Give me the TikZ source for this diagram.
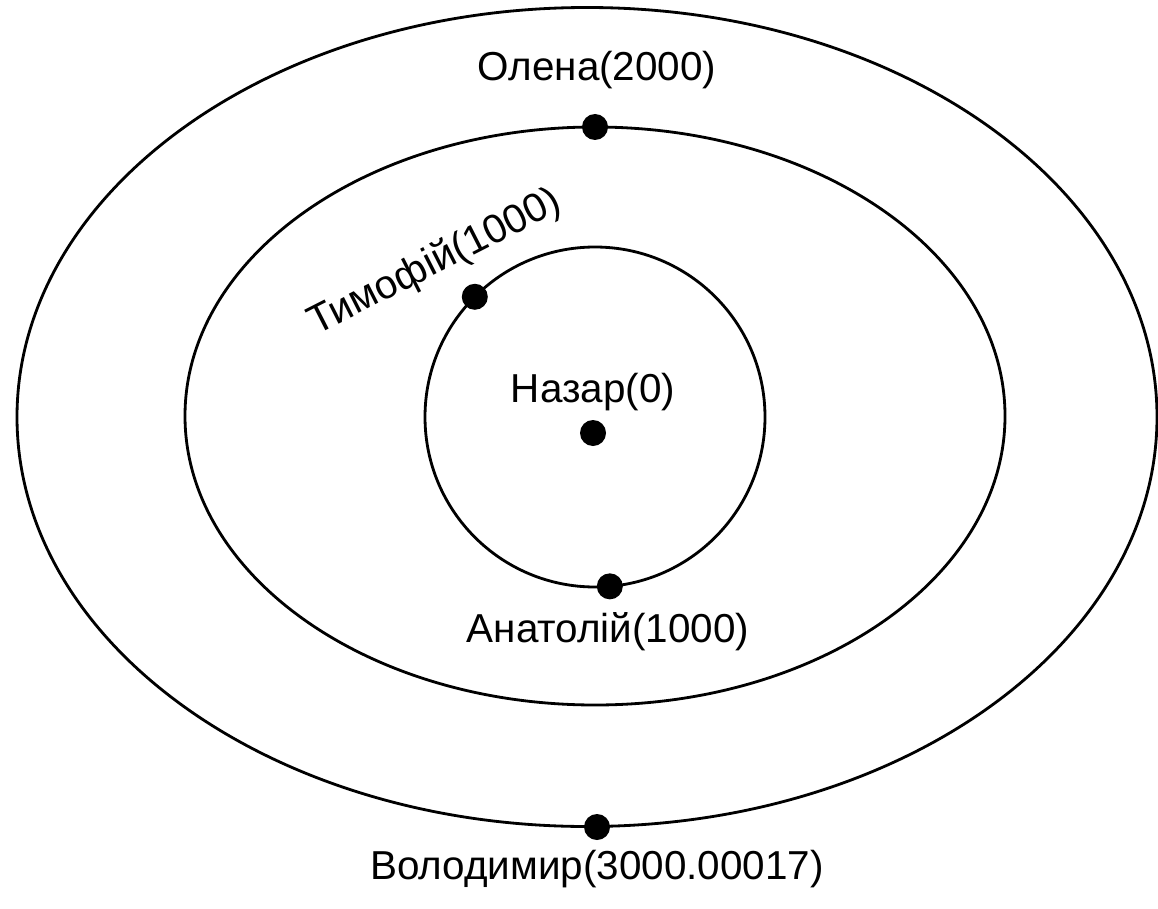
\documentclass[tikz,border=0pt]{standalone}
\usepackage{fontspec}
\setmainfont{Liberation Sans}
\usepackage{tikz}
\usetikzlibrary{shapes.geometric, positioning}

\begin{document}
\begin{tikzpicture}
  [
    Orbit/.style={ellipse, draw=black, line width=1.6pt, inner sep=0pt, outer sep=0pt},
    Dot/.style={circle, fill=black, inner sep=0pt, minimum size=5.2mm},
    Name/.style={inner sep=1pt, font=\fontsize{23}{27}\selectfont}
  ]
  \useasboundingbox (0,0) rectangle (23.16,-18.16);
  % Orbits
  \node[Orbit, minimum width=22.8cm, minimum height=16.38cm] (outer) at(11.74, -8.34) {};
  \node[Orbit, minimum width=16.4cm, minimum height=11.56cm] (middle) at(11.90, -8.32) {};
  \node[Orbit, circle, minimum size=6.8cm] (inner) at(11.90, -8.34) {};
  % Dots
  \node[Dot] (nazar) at(11.86, -8.66) {};
  \node[Dot] (tymofii) at(inner.135) {};
  \node[Dot] (anatolii) at(inner.-85) {};
  \node[Dot] (olena) at(middle.north) {};
  \node[Dot] (volodymyr) at(11.94, -16.54) {};
  % Names
  \node[Name] (nazarL) at(11.86, -7.84) {Назар(0)};
  \node[Name, rotate=27] (tymofiiL) at(8.70, -5.26) {Тимофій(1000)};
  \node[Name] (anatoliiL) at(12.16, -12.64) {Анатолій(1000)};
  \node[Name] (olenaL) at(11.94, -1.40) {Олена(2000)};
  \node[Name] (volodymyrL) at(11.94, -17.38) {Володимир(3000.00017)};
\end{tikzpicture}
\end{document}
